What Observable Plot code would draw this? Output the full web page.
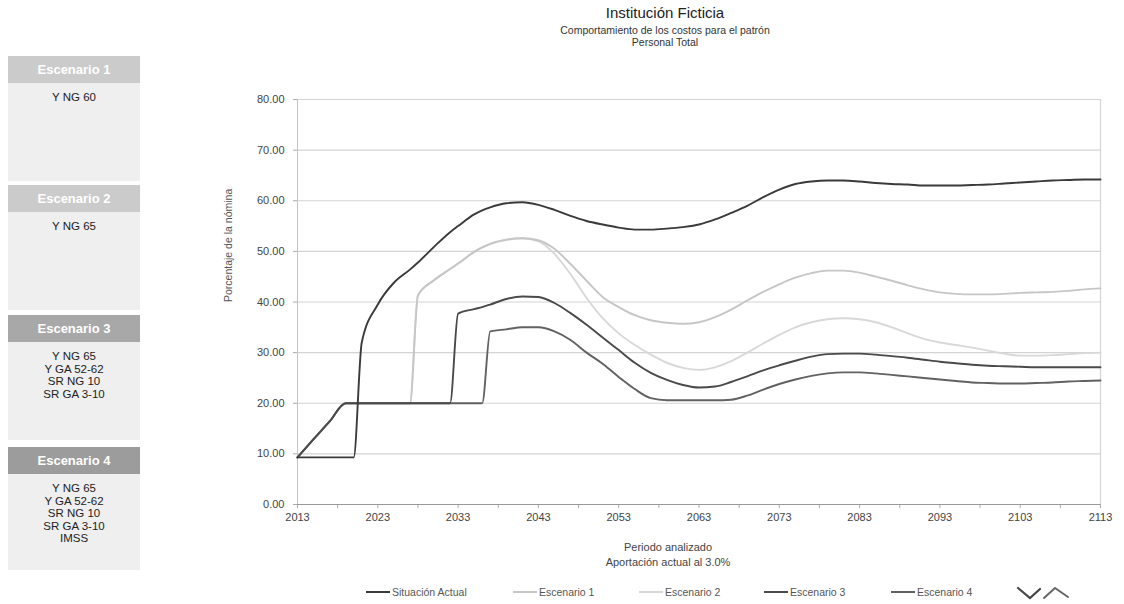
<!DOCTYPE html>
<html lang="es">
<head>
<meta charset="utf-8">
<script src="https://cdn.jsdelivr.net/npm/d3@7"></script>
<script src="https://cdn.jsdelivr.net/npm/@observablehq/plot@0.6"></script>
<style>
  html, body { margin: 0; padding: 0; background: #fff; }
  body { width: 1124px; height: 604px; position: relative; overflow: hidden;
         font-family: "Liberation Sans", Arial, sans-serif; }
  #chart { position: absolute; left: 0; top: 0; }
  .abs { position: absolute; }
  .title { left: 465px; width: 400px; text-align: center; color: #222; }
  .panel-head { position: absolute; left: 8px; width: 132px; height: 27px; line-height: 27px;
                text-align: center; color: #fff; font-weight: bold; font-size: 13px; }
  .panel-body { position: absolute; left: 8px; width: 132px; background: #efefef;
                text-align: center; color: #222; font-size: 11.5px; line-height: 12.6px; padding-top: 8px;
                box-sizing: border-box; }
  .xtitle { left: 518px; width: 300px; text-align: center; color: #444; font-size: 11px; }
  .leg { position: absolute; top: 586px; font-size: 10.5px; color: #555; display: flex; align-items: center; white-space: nowrap; }
  .leg span.sw { display: inline-block; width: 24px; height: 2px; margin-right: 2px; }
</style>
</head>
<body>
<div id="chart"></div>

<div class="abs title" style="top:4px;font-size:15px;">Institución Ficticia</div>
<div class="abs title" style="top:24px;font-size:10.5px;color:#333;">Comportamiento de los costos para el patrón</div>
<div class="abs title" style="top:36px;font-size:10.5px;color:#333;">Personal Total</div>

<div id="panels"></div>

<div class="abs xtitle" style="top:541px;">Periodo analizado</div>
<div class="abs xtitle" style="top:556px;">Aportación actual al 3.0%</div>

<div id="legend"></div>

<svg class="abs" style="left:1010px;top:582px;" width="70" height="22">
  <path d="M8,6 L20,16 L30,7" fill="none" stroke="#444" stroke-width="2.2" stroke-linecap="round"/>
  <path d="M34,16 L45,6 L58,15" fill="none" stroke="#666" stroke-width="2" stroke-linecap="round"/>
</svg>

<script>
// Years at which each series was read
const years = [2013, 2015, 2017, 2019, 2020, 2021, 2023, 2025, 2027, 2028, 2030, 2032, 2033, 2035, 2036,
  2037, 2039, 2041, 2043, 2045, 2047, 2049, 2051, 2053, 2055,
  2057, 2059, 2061, 2063, 2065, 2067, 2069, 2071, 2073, 2075,
  2077, 2079, 2081, 2083, 2085, 2087, 2089, 2091, 2093, 2095,
  2097, 2099, 2101, 2103, 2105, 2107, 2109, 2111, 2113];

// Employer cost as % of payroll
const situacionActual = [9.3, 9.3, 9.3, 9.3, 9.3, 32.0, 39.5, 43.8, 46.4, 47.8, 50.9, 53.8, 55.0, 57.3, 58.1,
  58.7, 59.5, 59.7, 59.2, 58.2, 57.0, 56.0, 55.3, 54.7, 54.3,
  54.3, 54.5, 54.8, 55.3, 56.3, 57.6, 59.0, 60.7, 62.2, 63.3,
  63.8, 64.0, 64.0, 63.8, 63.5, 63.3, 63.2, 63.0, 63.0, 63.0,
  63.1, 63.2, 63.4, 63.6, 63.8, 64.0, 64.1, 64.2, 64.2];

const escenario1 = [9.3, 12.9, 16.4, 20, 20, 20, 20, 20, 20, 41.3, 44.3, 46.5, 47.6, 49.9, 50.8,
  51.5, 52.3, 52.6, 52.2, 50.5, 47.5, 44.2, 41.0, 39.0, 37.4,
  36.4, 35.9, 35.7, 36.0, 37.0, 38.5, 40.3, 42.0, 43.5, 44.8,
  45.7, 46.2, 46.2, 45.8, 45.0, 44.2, 43.3, 42.5, 41.9, 41.6,
  41.5, 41.5, 41.6, 41.8, 41.9, 42.0, 42.2, 42.5, 42.7];

const escenario2 = [9.3, 12.9, 16.4, 20, 20, 20, 20, 20, 20, 41.3, 44.3, 46.5, 47.6, 49.9, 50.8,
  51.5, 52.3, 52.6, 52.0, 49.5, 45.5, 40.8, 36.8, 33.8, 31.5,
  29.6, 28.0, 27.0, 26.6, 27.1, 28.3, 30.0, 31.8, 33.5, 35.0,
  36.0, 36.6, 36.8, 36.6, 36.0, 35.0, 33.8, 32.7, 32.0, 31.5,
  31.0, 30.4, 29.8, 29.4, 29.4, 29.5, 29.7, 29.9, 30.0];

const escenario3 = [9.3, 12.9, 16.4, 20, 20, 20, 20, 20, 20, 20, 20, 20, 37.7, 38.6, 39.0,
  39.5, 40.6, 41.1, 41.0, 39.8, 37.8, 35.5, 33.0, 30.5, 28.0,
  26.0, 24.6, 23.6, 23.1, 23.3, 24.2, 25.3, 26.5, 27.5, 28.4,
  29.2, 29.7, 29.8, 29.8, 29.6, 29.3, 29.0, 28.6, 28.2, 27.9,
  27.6, 27.4, 27.3, 27.2, 27.1, 27.1, 27.1, 27.1, 27.1];

const escenario4 = [9.3, 12.9, 16.4, 20, 20, 20, 20, 20, 20, 20, 20, 20, 20, 20, 20,
  34.2, 34.6, 35.0, 35.0, 34.2, 32.5, 30.0, 27.8, 25.2, 22.8,
  21.0, 20.6, 20.6, 20.6, 20.6, 20.7, 21.5, 22.7, 23.8, 24.7,
  25.4, 25.9, 26.1, 26.1, 25.9, 25.6, 25.3, 25.0, 24.7, 24.4,
  24.1, 24.0, 23.9, 23.9, 24.0, 24.1, 24.3, 24.4, 24.5];

const seriesNames = ["Situación Actual", "Escenario 1", "Escenario 2", "Escenario 3", "Escenario 4"];
const seriesColors = ["#3a3a3a", "#c6c6c6", "#d8d8d8", "#4a4a4a", "#626262"];
const seriesValues = [situacionActual, escenario1, escenario2, escenario3, escenario4];

const yTicks = [0, 10, 20, 30, 40, 50, 60, 70, 80];
const xLabelTicks = [2013, 2023, 2033, 2043, 2053, 2063, 2073, 2083, 2093, 2103, 2113];

// Scenario descriptions for the side panel
const panelTitles = ["Escenario 1", "Escenario 2", "Escenario 3", "Escenario 4"];
const panelLines = [
  ["Y NG 60"],
  ["Y NG 65"],
  ["Y NG 65", "Y GA 52-62", "SR NG 10", "SR GA 3-10"],
  ["Y NG 65", "Y GA 52-62", "SR NG 10", "SR GA 3-10", "IMSS"]
];

// Long-format table; lighter lines first so darker ones sit on top
const drawOrder = [2, 1, 4, 3, 0];
const rows = drawOrder.flatMap(i =>
  years.map((year, j) => ({ year, value: seriesValues[i][j], series: seriesNames[i] })));

const font = "Liberation Sans, Arial, sans-serif";

const chart = Plot.plot({
  width: 1124,
  height: 604,
  marginLeft: 297,
  marginRight: 24,
  marginTop: 99,
  marginBottom: 100,
  style: { fontFamily: font, fontSize: "11px", color: "#444", background: "transparent" },
  x: { domain: [2013, 2113] },
  y: { domain: [0, 80] },
  color: { domain: seriesNames, range: seriesColors },
  marks: [
    Plot.gridY(yTicks.slice(1), { stroke: "#d4d4d4", strokeOpacity: 1, strokeWidth: 1.2 }),
    Plot.ruleX([2013], { stroke: "#c4c4c4" }),
    Plot.ruleX([2113], { stroke: "#d4d4d4", strokeWidth: 1.2 }),
    Plot.axisY({
      ticks: yTicks, tickSize: 4, tickPadding: 9, stroke: "#aaa",
      tickFormat: d => d.toFixed(2), label: null, fill: "#444"
    }),
    Plot.text(["Porcentaje de la nómina"], {
      frameAnchor: "left", rotate: -90, dx: -69, fontSize: 10.5, fill: "#555"
    }),
    Plot.axisX({
      ticks: d3.range(2013, 2114, 5), tickSize: 4, tickPadding: 5, stroke: "#aaa",
      tickFormat: d => xLabelTicks.includes(d) ? String(d) : "", label: null, fill: "#444"
    }),
    Plot.ruleY([0], { stroke: "#9a9a9a" }),
    Plot.line(rows, {
      x: "year", y: "value", z: "series", stroke: "series",
      curve: "monotone-x", strokeWidth: 1.9
    })
  ]
});
document.getElementById("chart").appendChild(chart);

// Side panel with scenario descriptions
const panelGeom = [
  { top: 56, body: 98, head: "#cbcbcb" },
  { top: 185, body: 98, head: "#cbcbcb" },
  { top: 315, body: 98, head: "#a8a8a8" },
  { top: 447, body: 96, head: "#9c9c9c" }
];
const panels = document.getElementById("panels");
panelTitles.forEach((t, i) => {
  const g = panelGeom[i];
  const h = document.createElement("div");
  h.className = "panel-head";
  h.style.top = g.top + "px";
  h.style.background = g.head;
  h.textContent = t;
  panels.appendChild(h);
  const b = document.createElement("div");
  b.className = "panel-body";
  b.style.top = (g.top + 27) + "px";
  b.style.height = g.body + "px";
  b.innerHTML = panelLines[i].map(s => `<div>${s}</div>`).join("");
  panels.appendChild(b);
});

// Legend below the chart
const legendLeft = [366, 513, 639, 764, 891];
const legend = document.getElementById("legend");
seriesNames.forEach((name, i) => {
  const item = document.createElement("div");
  item.className = "leg";
  item.style.left = legendLeft[i] + "px";
  item.innerHTML = `<span class="sw" style="background:${seriesColors[i]}"></span>${name}`;
  legend.appendChild(item);
});
</script>
</body>
</html>
